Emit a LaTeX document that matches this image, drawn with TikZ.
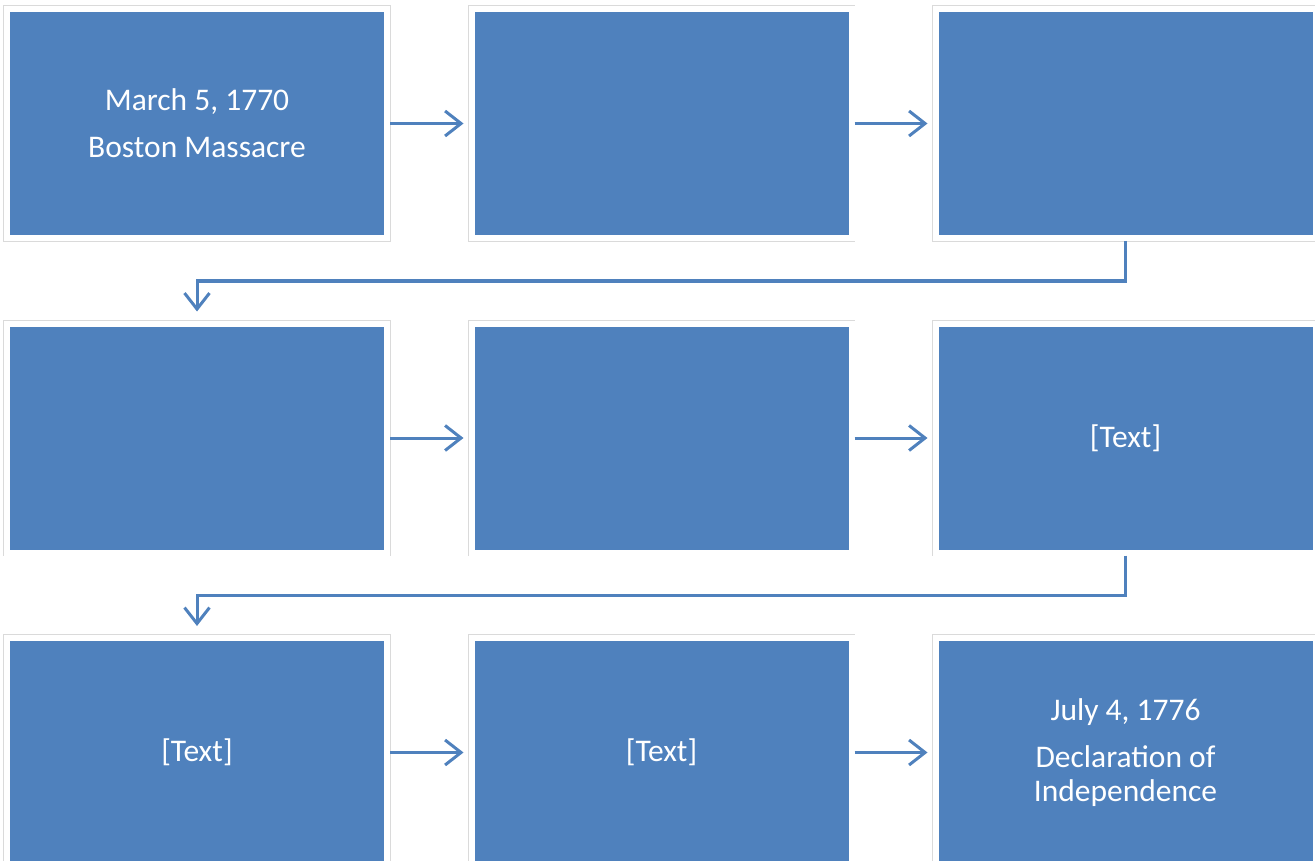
\documentclass[tikz,border=0pt]{standalone}
\usepackage{fontspec}
\setmainfont{Carlito}
\usetikzlibrary{arrows.meta}
\definecolor{boxblue}{HTML}{4F81BD}
\definecolor{framegray}{HTML}{DADADA}
\begin{document}
\begin{tikzpicture}[x=1pt,y=1pt,
  box/.style={fill=boxblue, draw=white, line width=6pt,
    preaction={draw=framegray, line width=7.5pt},
    minimum width=380pt, minimum height=229pt, inner sep=0pt,
    text=white, align=center, font=\fontsize{31.5}{34}\selectfont},
  arr/.style={draw=boxblue, line width=3pt,
    -{Straight Barb[length=16pt,width=25pt,line width=3pt]}},
  harr/.style={arr, shorten >=5pt, shorten <=0pt},
  varr/.style={arr, shorten >=9pt}]
\useasboundingbox (0,0) rectangle (1315,-861);
% row 1
\node[box] (b1) at (197,-123.5) {March 5, 1770\\[13pt]Boston Massacre};
\node[box] (b2) at (661.5,-123.5) {};
\node[box] (b3) at (1125.5,-123.5) {};
% row 2
\node[box] (b4) at (197,-438) {};
\node[box] (b5) at (661.5,-438) {};
\node[box] (b6) at (1125.5,-438) {[Text]};
% row 3
\node[box] (b7) at (197,-752.5) {[Text]};
\node[box] (b8) at (661.5,-752.5) {[Text]};
\node[box] (b9) at (1125.5,-752.5) {July 4, 1776\\[13pt]Declaration of\\Independence};
% connectors
\draw[harr] (b1.east) -- (b2.west);
\draw[harr] (b2.east) -- (b3.west);
\draw[harr] (b4.east) -- (b5.west);
\draw[harr] (b5.east) -- (b6.west);
\draw[harr] (b7.east) -- (b8.west);
\draw[harr] (b8.east) -- (b9.west);
\coordinate (e1) at (1125.5,-281);
\coordinate (e2) at (1125.5,-595);
\draw[varr] (b3.south) -- (e1) -| (b4.north);
\draw[varr] (b6.south) -- (e2) -| (b7.north);
\end{tikzpicture}
\end{document}
